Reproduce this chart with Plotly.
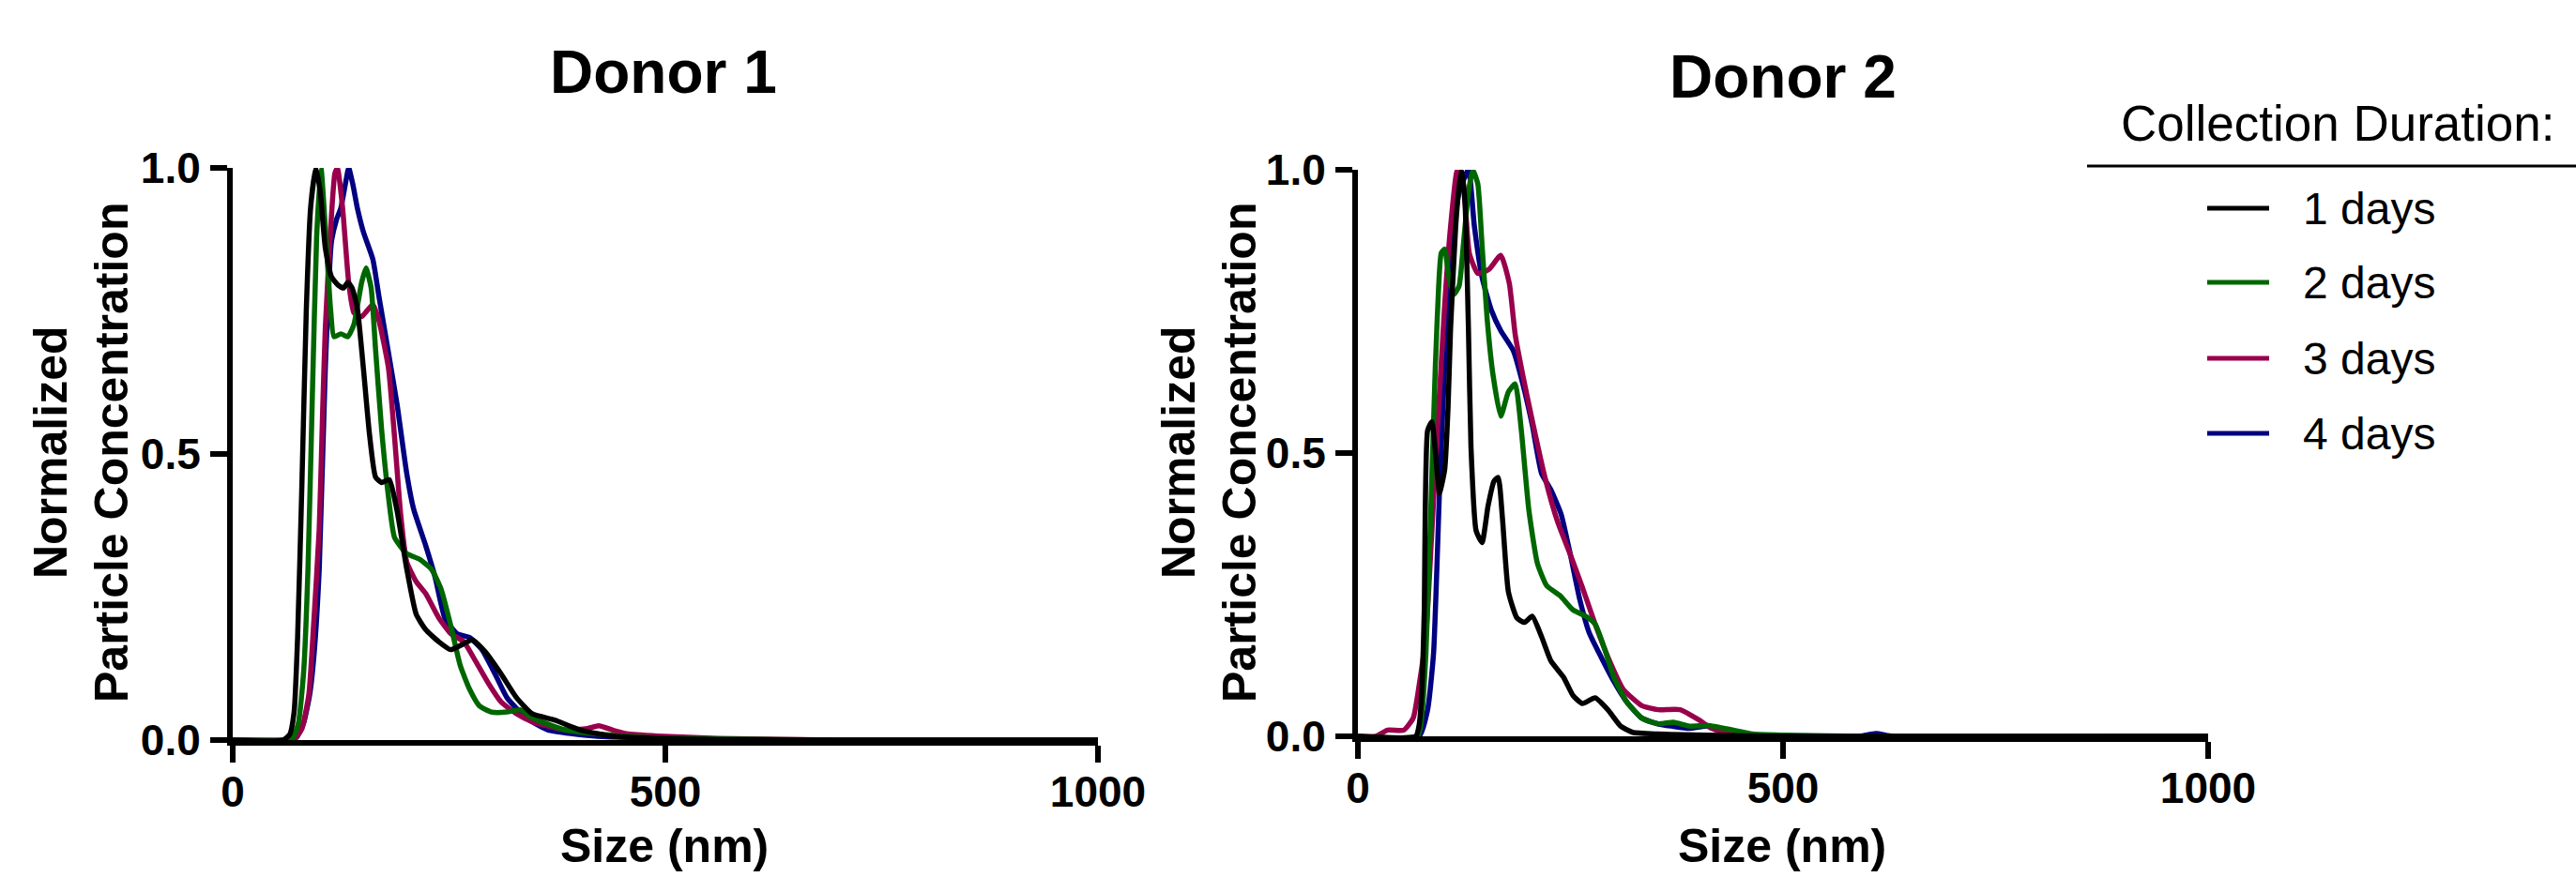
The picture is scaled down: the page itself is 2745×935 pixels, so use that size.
import plotly.graph_objects as go

# ---- data (size in nm, normalized concentration) ----
labels = ["1 days", "2 days", "3 days", "4 days"]
colors = ["#000000", "#006600", "#99004C", "#000080"]

# Donor 1
d1_day1_x = [0, 58, 66, 71, 75, 80, 85, 90, 96, 101, 107, 114, 122, 128, 133, 138, 144, 151, 158, 165,
             172, 181, 190, 201, 212, 223, 238, 252, 263, 277, 292, 310, 328, 346, 372, 401, 437, 491,
             560, 700, 1000]
d1_day1_y = [0, 0, 0.01, 0.05, 0.18, 0.45, 0.75, 0.93, 1.0, 0.96, 0.86, 0.81, 0.795, 0.79, 0.80, 0.79,
             0.755, 0.65, 0.535, 0.46, 0.45, 0.455, 0.40, 0.30, 0.22, 0.193, 0.172, 0.158, 0.165, 0.175,
             0.154, 0.116, 0.074, 0.046, 0.035, 0.018, 0.007, 0.003, 0.001, 0, 0]

d1_day2_x = [0, 62, 70, 76, 82, 87, 92, 97, 102, 107, 113, 117, 125, 133, 140, 149, 154, 160, 165, 172,
             180, 187, 201, 216, 230, 241, 252, 263, 274, 285, 299, 317, 332, 346, 383, 419, 473, 560,
             700, 1000]
d1_day2_y = [0, 0, 0.005, 0.03, 0.12, 0.3, 0.6, 0.88, 1.0, 0.895, 0.754, 0.705, 0.71, 0.705, 0.726,
             0.80, 0.825, 0.79, 0.684, 0.544, 0.425, 0.354, 0.326, 0.316, 0.298, 0.263, 0.20, 0.13,
             0.088, 0.06, 0.049, 0.049, 0.053, 0.039, 0.018, 0.011, 0.005, 0.002, 0, 0]

d1_day3_x = [0, 65, 72, 80, 88, 93, 100, 104, 107, 113, 118, 121, 127, 134, 140, 149, 155, 162, 169,
             180, 187, 194, 201, 212, 223, 238, 252, 267, 281, 296, 310, 328, 346, 383, 410, 423, 440,
             455, 491, 560, 700, 1000]
d1_day3_y = [0, 0, 0.003, 0.02, 0.08, 0.19, 0.37, 0.58, 0.72, 0.89, 0.99, 1.0, 0.93, 0.80, 0.747,
             0.74, 0.75, 0.761, 0.733, 0.65, 0.53, 0.396, 0.312, 0.277, 0.256, 0.214, 0.186, 0.172,
             0.137, 0.098, 0.067, 0.046, 0.032, 0.018, 0.02, 0.025, 0.017, 0.011, 0.007, 0.003, 0, 0]

d1_day4_x = [0, 65, 74, 82, 89, 94, 100, 107, 114, 120, 125, 130, 134, 139, 144, 151, 162, 169, 180,
             190, 201, 209, 223, 234, 245, 259, 274, 288, 303, 317, 339, 364, 419, 491, 600, 1000]
d1_day4_y = [0, 0, 0.005, 0.03, 0.08, 0.15, 0.3, 0.65, 0.87, 0.91, 0.93, 0.97, 1.0, 0.97, 0.93,
             0.888, 0.84, 0.775, 0.677, 0.586, 0.467, 0.404, 0.34, 0.284, 0.214, 0.186, 0.179, 0.158,
             0.116, 0.074, 0.039, 0.018, 0.007, 0.003, 0, 0]

# Donor 2
d2_day1_x = [0, 68, 72, 75, 78, 82, 87, 93, 96, 102, 106, 109, 115, 119, 122, 126, 130, 133, 139, 146,
             153, 160, 165, 170, 177, 187, 196, 205, 216, 227, 242, 253, 264, 279, 294, 309, 323, 353,
             408, 500, 1000]
d2_day1_y = [0, 0, 0.02, 0.075, 0.22, 0.54, 0.555, 0.47, 0.43, 0.47, 0.58, 0.72, 0.90, 0.97, 1.0,
             0.94, 0.72, 0.51, 0.363, 0.342, 0.406, 0.45, 0.457, 0.385, 0.255, 0.209, 0.201, 0.212,
             0.176, 0.133, 0.104, 0.072, 0.058, 0.068, 0.047, 0.018, 0.007, 0.004, 0.002, 0, 0]

d2_day2_x = [0, 70, 74, 80, 85, 91, 95, 98, 102, 107, 113, 119, 124, 130, 135, 141, 146, 152, 159,
             168, 177, 185, 192, 201, 211, 222, 238, 253, 268, 279, 290, 301, 316, 334, 353, 371, 390,
             412, 438, 464, 501, 600, 1000]
d2_day2_y = [0, 0, 0.02, 0.147, 0.363, 0.65, 0.795, 0.853, 0.86, 0.81, 0.78, 0.795, 0.867, 0.96, 1.0,
             0.975, 0.867, 0.737, 0.637, 0.565, 0.608, 0.622, 0.543, 0.40, 0.306, 0.266, 0.248, 0.223,
             0.212, 0.198, 0.155, 0.104, 0.061, 0.032, 0.022, 0.025, 0.018, 0.019, 0.012, 0.004,
             0.002, 0, 0]

d2_day3_x = [0, 21, 35, 54, 65, 72, 80, 87, 95, 102, 109, 117, 124, 131, 141, 154, 168, 178, 185,
             194, 205, 220, 235, 250, 264, 279, 298, 312, 334, 353, 379, 401, 416, 438, 464, 1000]
d2_day3_y = [0, 0, 0.011, 0.011, 0.032, 0.09, 0.18, 0.363, 0.58, 0.76, 0.90, 1.0, 0.975, 0.853,
             0.817, 0.824, 0.849, 0.80, 0.709, 0.637, 0.558, 0.457, 0.378, 0.32, 0.263, 0.198, 0.126,
             0.083, 0.054, 0.047, 0.047, 0.029, 0.014, 0.004, 0, 0]

d2_day4_x = [0, 72, 82, 89, 96, 104, 111, 119, 130, 137, 146, 157, 168, 183, 194, 205, 216, 227, 239,
             250, 261, 272, 286, 301, 316, 334, 353, 390, 412, 445, 464, 590, 609, 630, 1000]
d2_day4_y = [0, 0, 0.047, 0.147, 0.435, 0.72, 0.867, 0.96, 1.0, 0.90, 0.81, 0.752, 0.716, 0.68,
             0.622, 0.55, 0.464, 0.435, 0.392, 0.32, 0.241, 0.183, 0.14, 0.097, 0.061, 0.032, 0.022,
             0.014, 0.018, 0.004, 0, 0, 0.005, 0, 0]

donor1 = [(d1_day1_x, d1_day1_y), (d1_day2_x, d1_day2_y), (d1_day3_x, d1_day3_y), (d1_day4_x, d1_day4_y)]
donor2 = [(d2_day1_x, d2_day1_y), (d2_day2_x, d2_day2_y), (d2_day3_x, d2_day3_y), (d2_day4_x, d2_day4_y)]

x_ticks = [0, 500, 1000]
y_ticks = [0, 0.5, 1.0]
y_ticktext = ["0.0", "0.5", "1.0"]

# ---- figure ----
W, H = 2745, 935
FONT = "Liberation Sans, Arial, Helvetica, sans-serif"


def px(x):
    return x / W


def py(y):
    return 1 - y / H


fig = go.Figure()

# first series drawn last so it sits on top
for i in reversed(range(4)):
    for (xs, ys), xa, ya in [(donor1[i], "x", "y"), (donor2[i], "x2", "y2")]:
        fig.add_trace(go.Scatter(
            x=xs, y=ys, mode="lines", name=labels[i], showlegend=False,
            line=dict(color=colors[i], width=5.5, shape="spline", smoothing=0.5),
            xaxis=xa, yaxis=ya, hoverinfo="skip",
        ))

axis_common = dict(
    showline=True, linecolor="black", linewidth=6,
    ticks="outside", ticklen=18, tickwidth=6, tickcolor="black",
    showgrid=False, zeroline=False, automargin=False,
    tickfont=dict(family=FONT, size=46, color="black", weight="bold"),
    fixedrange=True,
)

fig.update_layout(
    template="none",
    width=W, height=H,
    margin=dict(l=0, r=0, t=0, b=0, pad=0, autoexpand=False),
    paper_bgcolor="white", plot_bgcolor="white",
    showlegend=False,
    xaxis=dict(domain=[px(248), px(1170)], range=[0, 1000], tickvals=x_ticks, anchor="y",
               ticklabelstandoff=-8, **axis_common),
    yaxis=dict(domain=[py(789), py(179)], range=[0, 1], tickvals=y_ticks, ticktext=y_ticktext,
               anchor="x", ticklabelstandoff=1, **axis_common),
    xaxis2=dict(domain=[px(1447), px(2353)], range=[0, 1000], tickvals=x_ticks, anchor="y2",
                ticklabelstandoff=-8, **axis_common),
    yaxis2=dict(domain=[py(785), py(181)], range=[0, 1], tickvals=y_ticks, ticktext=y_ticktext,
                anchor="x2", ticklabelstandoff=1, **axis_common),
)

annotations = []
shapes = []

# panel titles
for text, cx, cy in [("Donor 1", 707, 77), ("Donor 2", 1900, 82)]:
    annotations.append(dict(text=text, x=px(cx), y=py(cy), xref="paper", yref="paper",
                            xanchor="center", yanchor="middle", showarrow=False,
                            font=dict(family=FONT, size=64, color="black", weight="bold")))

# axis titles
for cx in [86, 1288]:
    annotations.append(dict(text="Normalized<br>Particle Concentration", x=px(cx), y=py(483),
                            xref="paper", yref="paper", xanchor="center", yanchor="middle",
                            textangle=-90, showarrow=False,
                            font=dict(family=FONT, size=50, color="black", weight="bold")))
for cx in [708, 1899]:
    annotations.append(dict(text="Size (nm)", x=px(cx), y=py(902), xref="paper", yref="paper",
                            xanchor="center", yanchor="middle", showarrow=False,
                            font=dict(family=FONT, size=50, color="black", weight="bold")))

# legend
annotations.append(dict(text="Collection Duration:", x=px(2258), y=py(131), xref="paper", yref="paper",
                        xanchor="left", yanchor="middle", showarrow=False,
                        font=dict(family=FONT, size=53, color="black")))
shapes.append(dict(type="line", xref="paper", yref="paper", x0=px(2224), x1=1, y0=py(177), y1=py(177),
                   line=dict(color="black", width=3)))
row_y = [222, 301, 382, 462]
for i in range(4):
    shapes.append(dict(type="line", xref="paper", yref="paper", x0=px(2352), x1=px(2418),
                       y0=py(row_y[i]), y1=py(row_y[i]), line=dict(color=colors[i], width=5)))
    annotations.append(dict(text=labels[i], x=px(2452), y=py(row_y[i]), xref="paper", yref="paper",
                            xanchor="left", yanchor="middle", showarrow=False,
                            font=dict(family=FONT, size=48, color="black")))

fig.update_layout(annotations=annotations, shapes=shapes)

# the page's default body margin would shift the whole figure by 8px
fig.write_html("out.html", config={"displayModeBar": False},
               post_script="document.body.style.margin='0';")
